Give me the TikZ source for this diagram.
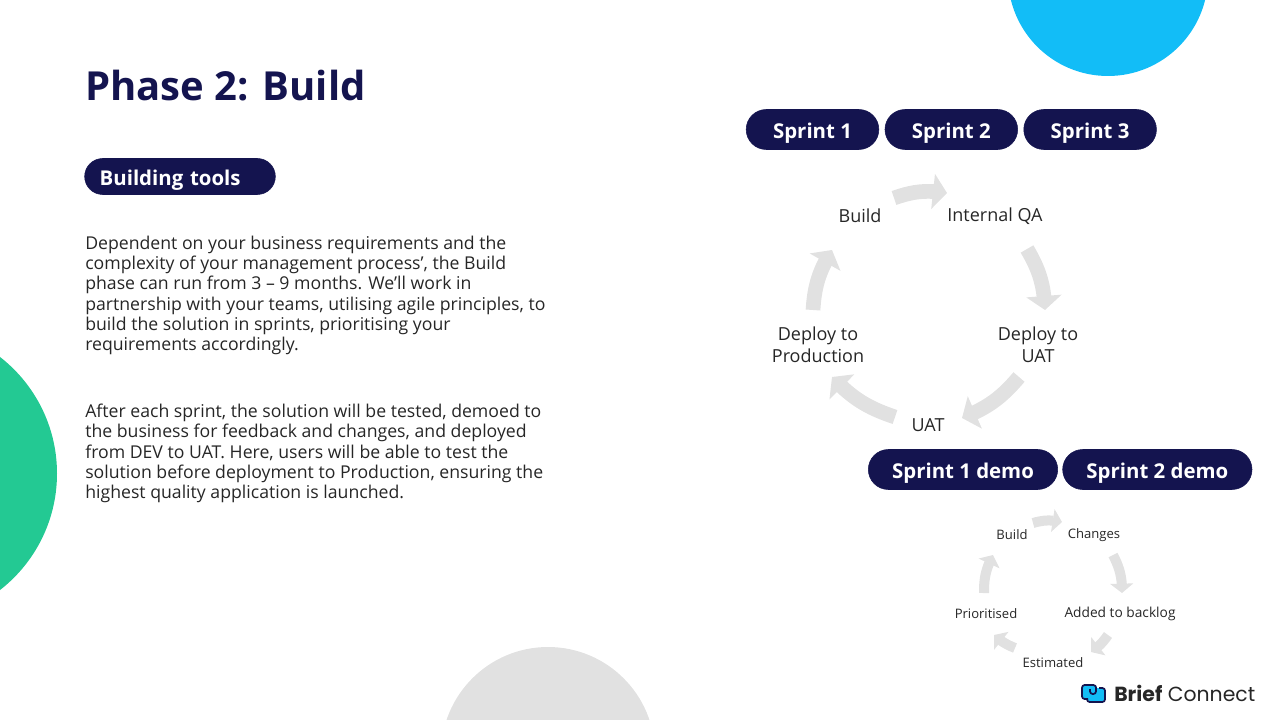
\documentclass[tikz,border=0pt]{standalone}
\usepackage{fontspec}
\setmainfont{Open Sans}
\newfontfamily\logofont{Poppins}
\usepackage{tikz}
\usetikzlibrary{positioning,calc,arrows.meta,bending}
\definecolor{navy}{HTML}{14144F}
\definecolor{cyan}{HTML}{12BDF7}
\definecolor{mint}{HTML}{23C993}
\definecolor{pale}{HTML}{E1E1E1}
\tikzset{
  pill/.style      = {shape=rectangle, rounded corners=15pt, fill=navy, draw=navy,
                      text=white, font=\fontsize{15.3}{18}\selectfont\bfseries,
                      text height=12.8pt, text depth=0pt,
                      minimum height=30pt, inner sep=0pt, outer sep=0pt},
  steptext/.style  = {align=center, font=\fontsize{13.5}{16.5}\selectfont, text=black!85, inner sep=0pt},
  smalltext/.style = {align=center, font=\fontsize{9.8}{11}\selectfont, text=black!85, inner sep=0pt},
  bodytext/.style  = {align=left, anchor=north west, inner sep=0pt, text=black!85,
                      font=\fontsize{13.25}{15.1}\selectfont},
  bigarrow/.style  = {draw=pale, line width=11pt, -{Triangle[width=26pt,length=10.5pt]}},
  tinyarrow/.style = {draw=pale, line width=7.5pt, -{Triangle[width=17pt,length=7pt]}}
}
\begin{document}
\begin{tikzpicture}[x=0.75pt,y=-0.75pt]
  \useasboundingbox (0,0) rectangle (1280,720);

  % background circles
  \fill[cyan] (1108,-24) circle (100);
  \fill[mint] (-90.6,473.5) circle (147.6);
  \fill[pale] (548,754) circle (107);

  % left column
  \node (title) [anchor=west, inner sep=0pt, text=navy, font=\fontsize{30}{36}\selectfont\bfseries] at (85,86) {Phase 2: Build};
  \node (tools) [pill, text width=120.5pt, inner xsep=11.25pt, align=left, minimum height=27pt, rounded corners=13.5pt] at (180,176.5) {Building tools};
  \node (para1) [bodytext] at (85,236) {Dependent on your business requirements and the\\
    complexity of your management process’, the Build\\
    phase can run from 3 – 9 months. We’ll work in\\
    partnership with your teams, utilising agile principles, to\\
    build the solution in sprints, prioritising your\\
    requirements accordingly.};
  \node (para2) [bodytext] at (85,404) {After each sprint, the solution will be tested, demoed to\\
    the business for feedback and changes, and deployed\\
    from DEV to UAT. Here, users will be able to test the\\
    solution before deployment to Production, ensuring the\\
    highest quality application is launched.};

  % sprints
  \node (sprint1) [pill, minimum width=99.5pt] at (812.5,129.5) {Sprint 1};
  \node (sprint2) [pill, minimum width=99.5pt, right=4.6pt of sprint1] {Sprint 2};
  \node (sprint3) [pill, minimum width=99.5pt, right=4.6pt of sprint2] {Sprint 3};

  % main cycle
  \node (build)  [steptext] at (860,216) {Build};
  \node (qa)     [steptext] at (995,216) {Internal QA};
  \node (depuat) [steptext] at (1038,345) {Deploy to\\UAT};
  \node (uat)    [steptext] at (928,425) {UAT};
  \node (depprod)[steptext] at (818,345) {Deploy to\\Production};

  \draw[bigarrow] ($(build)+(34,-18)$) to[bend left=14] ($(qa)+(-48,-23)$);
  \draw[bigarrow] ($(qa)+(32,33)$) to[bend left=14] ($(depuat)+(7,-35)$);
  \draw[bigarrow] ($(depuat)+(-19,32)$) to[bend left=14] ($(uat)+(34,-7)$);
  \draw[bigarrow] ($(uat)+(-33,-8)$) to[bend left=14] ($(depprod)+(14,32)$);
  \draw[bigarrow] ($(depprod)+(-5,-35)$) to[bend left=14] ($(build)+(-28,34)$);

  % demos
  \node (demo1) [pill, minimum width=142pt] at (963,469.5) {Sprint 1 demo};
  \node (demo2) [pill, minimum width=142pt, right=3.75pt of demo1] {Sprint 2 demo};

  % small cycle
  \node (sbuild)  [smalltext] at (1012,535) {Build};
  \node (changes) [smalltext] at (1094,535) {Changes};
  \node (backlog) [smalltext, font=\fontsize{10.3}{11}\selectfont] at (1120,614) {Added to backlog};
  \node (estim)   [smalltext] at (1053,663) {Estimated};
  \node (prior)   [smalltext] at (986,614) {Prioritised};

  \draw[tinyarrow] ($(sbuild)+(21,-12)$) to[bend left=14] ($(changes)+(-32,-13)$);
  \draw[tinyarrow] ($(changes)+(19,20)$) to[bend left=14] ($(backlog)+(2,-21)$);
  \draw[tinyarrow] ($(backlog)+(-12,21)$) to[bend left=10] ($(estim)+(38,-11)$);
  \draw[tinyarrow] ($(estim)+(-38,-15)$) to[bend left=10] ($(prior)+(8,21)$);
  \draw[tinyarrow] ($(prior)+(-2,-21)$) to[bend left=14] ($(sbuild)+(-19,20)$);

  % logo
  \fill[cyan, rounded corners=2pt] (1082,685) rectangle (1097,698);
  \fill[cyan, rounded corners=2pt] (1087,688) rectangle (1105,701);
  \draw[navy, line width=1.3pt, rounded corners=2pt] (1088,699) -- (1082,699) -- (1082,685) -- (1096,685) -- (1096,694) -- (1090,694) -- (1090,689);
  \draw[navy, line width=1.3pt, rounded corners=2pt] (1099,688) -- (1105,688) -- (1105,702) -- (1087,702) -- (1087,699);
  \node (logo) [anchor=west, inner sep=0pt, text=black!85, font=\logofont\fontsize{15.3}{18}\selectfont] at (1114,693.5) {\textbf{Brief} Connect};
\end{tikzpicture}
\end{document}
